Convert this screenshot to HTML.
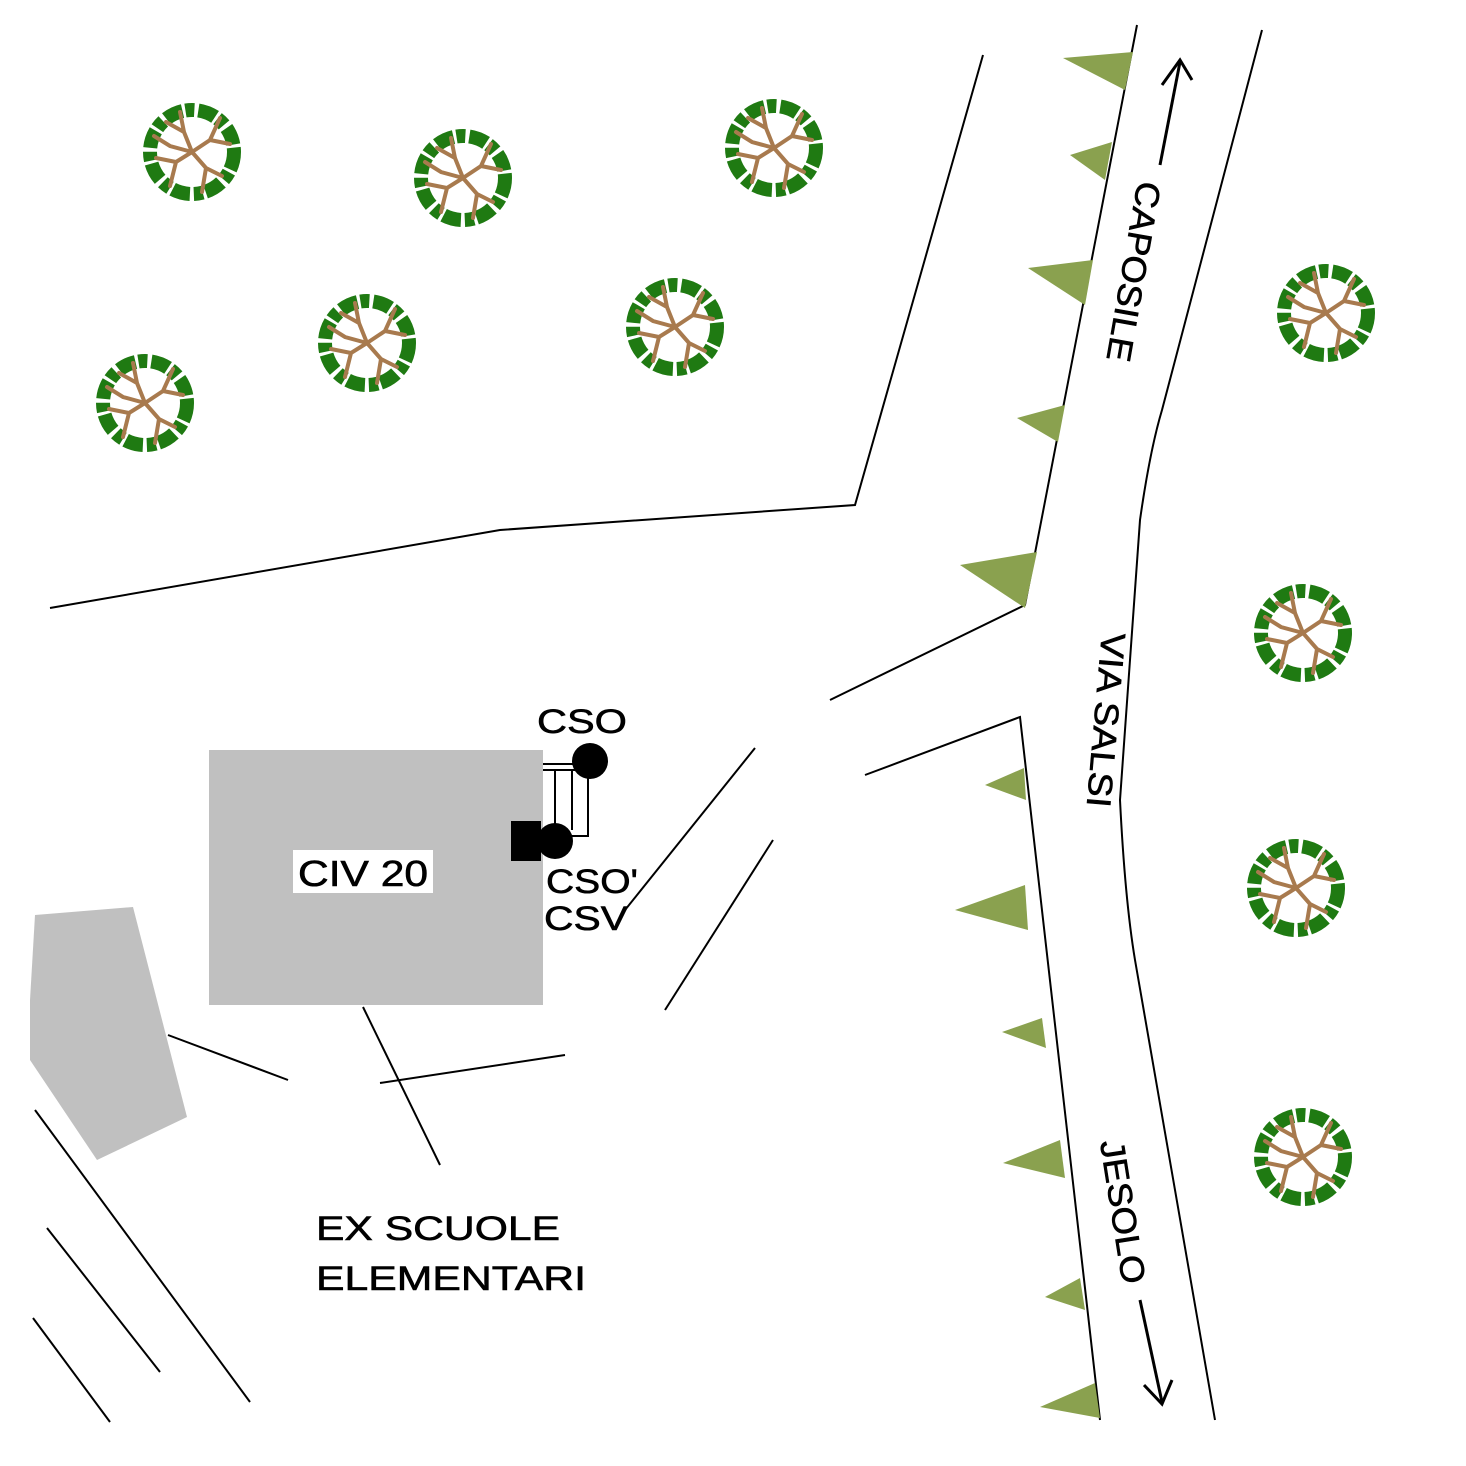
<!DOCTYPE html>
<html><head><meta charset="utf-8"><style>html,body{margin:0;padding:0;background:#fff}svg{display:block}</style></head><body>
<svg width="1466" height="1466" viewBox="0 0 1466 1466" xmlns="http://www.w3.org/2000/svg" font-family="Liberation Sans, sans-serif">
<defs>
<g id="tree">
<circle r="42" fill="none" stroke="#1f7a12" stroke-width="14" stroke-dasharray="18 3 9 4"/>
<g stroke="#a87a4e" stroke-width="4" fill="none" stroke-linecap="round">
<path d="M0 0 L-8 -20 L-12 -40 M-8 -20 L-26 -30"/>
<path d="M0 0 L18 -12 L28 -34 M18 -12 L38 -8"/>
<path d="M0 0 L14 16 L30 24 M14 16 L10 40"/>
<path d="M0 0 L-16 10 L-36 6 M-16 10 L-22 34"/>
<path d="M0 0 L-22 -6 L-38 -16"/>
</g>
</g>
</defs>
<rect width="1466" height="1466" fill="#fff"/>
<g fill="none" stroke="#000" stroke-width="2">
<polyline points="983,55 855,505 500,530 50,608"/>
<polyline points="1137,25 1025,605 830,700"/>
<polyline points="865,775 1020,717 1100,1420"/>
<path d="M1262,30 L1162,410 Q1150,450 1140,520 L1120,800 Q1125,900 1135,960 L1215,1420"/>
<line x1="755" y1="748" x2="625" y2="910"/>
<line x1="773" y1="840" x2="665" y2="1010"/>
<line x1="380" y1="1083" x2="565" y2="1055"/>
<line x1="363" y1="1007" x2="440" y2="1165"/>
<line x1="168" y1="1035" x2="288" y2="1080"/>
<line x1="35" y1="1110" x2="250" y2="1402"/>
<line x1="47" y1="1228" x2="160" y2="1372"/>
<line x1="33" y1="1318" x2="110" y2="1422"/>
</g>
<rect x="209" y="750" width="334" height="255" fill="#c0c0c0"/>
<polygon points="35,915 133,907 187,1117 97,1160 30,1060 30,1000" fill="#c0c0c0"/>
<g fill="#8aa14f">
<polygon points="1063,58 1133,52 1125,90"/>
<polygon points="1070,155 1112,142 1105,180"/>
<polygon points="1028,268 1093,260 1085,305"/>
<polygon points="1017,418 1065,405 1058,442"/>
<polygon points="960,565 1037,552 1025,608"/>
<polygon points="985,785 1024,768 1026,800"/>
<polygon points="955,910 1025,885 1028,930"/>
<polygon points="1002,1032 1042,1018 1046,1048"/>
<polygon points="1003,1163 1060,1140 1065,1178"/>
<polygon points="1045,1297 1080,1278 1085,1310"/>
<polygon points="1040,1407 1095,1383 1100,1418"/>
</g>
<g>
<use href="#tree" x="192" y="152"/><use href="#tree" x="463" y="178"/><use href="#tree" x="774" y="148"/>
<use href="#tree" x="367" y="343"/><use href="#tree" x="675" y="327"/><use href="#tree" x="145" y="403"/>
<use href="#tree" x="1326" y="313"/><use href="#tree" x="1303" y="633"/><use href="#tree" x="1296" y="888"/><use href="#tree" x="1303" y="1157"/>
</g>
<g fill="none" stroke="#000" stroke-width="2">
<line x1="543" y1="764" x2="575" y2="764"/><line x1="543" y1="770" x2="575" y2="770"/>
<line x1="555" y1="770" x2="555" y2="830"/>
<line x1="572" y1="770" x2="572" y2="830"/>
<polyline points="588,775 588,836 565,836"/>
</g>
<rect x="511" y="821" width="30" height="40" fill="#000"/>
<circle cx="590" cy="761" r="18" fill="#000"/>
<circle cx="555" cy="841" r="18" fill="#000"/>
<rect x="293" y="850" width="140" height="43" fill="#fff"/>
<g fill="#000" font-size="34" stroke="#000" stroke-width="0.6">
<text x="298" y="886" textLength="130" lengthAdjust="spacingAndGlyphs" font-size="36">CIV 20</text>
<text x="537" y="733" textLength="90" lengthAdjust="spacingAndGlyphs">CSO</text>
<text x="546" y="893" textLength="92" lengthAdjust="spacingAndGlyphs">CSO'</text>
<text x="544" y="930" textLength="84" lengthAdjust="spacingAndGlyphs">CSV</text>
<text x="316" y="1240" textLength="244" lengthAdjust="spacingAndGlyphs">EX SCUOLE</text>
<text x="316" y="1290" textLength="270" lengthAdjust="spacingAndGlyphs">ELEMENTARI</text>
<text transform="translate(1138,180) rotate(100)" textLength="182" lengthAdjust="spacingAndGlyphs">CAPOSILE</text>
<text transform="translate(1102,632) rotate(95)" textLength="175" lengthAdjust="spacingAndGlyphs">VIA SALSI</text>
<text transform="translate(1100,1142) rotate(81)" textLength="145" lengthAdjust="spacingAndGlyphs">JESOLO</text>
</g>
<g fill="none" stroke="#000" stroke-width="3">
<line x1="1160" y1="165" x2="1180" y2="62"/>
<polyline points="1162,85 1180,60 1192,80"/>
<line x1="1140" y1="1300" x2="1162" y2="1402"/>
<polyline points="1144,1385 1162,1404 1172,1380"/>
</g>
</svg>
</body></html>
